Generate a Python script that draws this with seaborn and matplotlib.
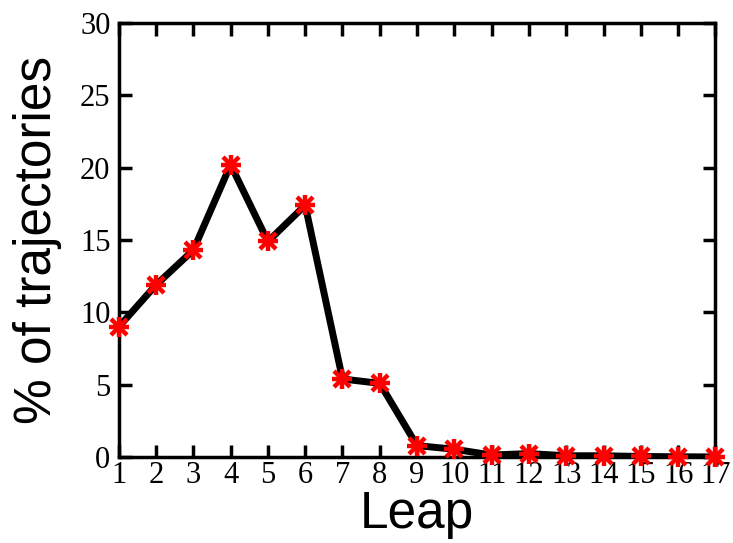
import matplotlib
matplotlib.use("Agg")
import matplotlib.pyplot as plt
import seaborn as sns
import pandas as pd

leap = [1, 2, 3, 4, 5, 6, 7, 8, 9, 10, 11, 12, 13, 14, 15, 16, 17]
percent = [9.0, 11.9, 14.3, 20.2, 14.9, 17.4, 5.4, 5.1, 0.8, 0.55, 0.15, 0.25, 0.1, 0.1, 0.05, 0.03, 0.02]
yticks = [0, 5, 10, 15, 20, 25, 30]

sns.set_style("ticks")
plt.rcParams["text.color"] = "black"
plt.rcParams["axes.labelcolor"] = "black"
df = pd.DataFrame({"Leap": leap, "pct": percent})

fig = plt.figure(figsize=(7.33, 5.43), dpi=100)
ax = fig.add_axes([0.162, 0.158, 0.814, 0.800])

sns.lineplot(data=df, x="Leap", y="pct", ax=ax, color="black", linewidth=5, zorder=2)
ax.plot(df["Leap"], df["pct"], linestyle="none", marker="+", markersize=15,
        markeredgewidth=3.2, color="red", zorder=3, clip_on=False)
ax.plot(df["Leap"], df["pct"], linestyle="none", marker="x", markersize=11,
        markeredgewidth=3.2, color="red", zorder=3, clip_on=False)

ax.set_xlim(1, 17)
ax.set_ylim(0, 30)
ax.set_xticks(leap)
ax.set_yticks(yticks)
for lab in ax.get_xticklabels() + ax.get_yticklabels():
    lab.set_family("Liberation Serif")
    lab.set_fontsize(22)
    lab.set_color("black")
ax.tick_params(direction="in", length=9, width=2.5, top=True, right=True, colors="black")
ax.tick_params(axis="x", pad=3)
ax.tick_params(axis="y", pad=6)
for s in ax.spines.values():
    s.set_linewidth(2.5)
    s.set_color("black")

ax.set_xlabel("Leap", family="Liberation Sans", fontsize=37, labelpad=0, color="black")
ax.set_ylabel("% of trajectories", family="Liberation Sans", fontsize=37, labelpad=13, color="black")

fig.savefig("out.png", dpi=100)
